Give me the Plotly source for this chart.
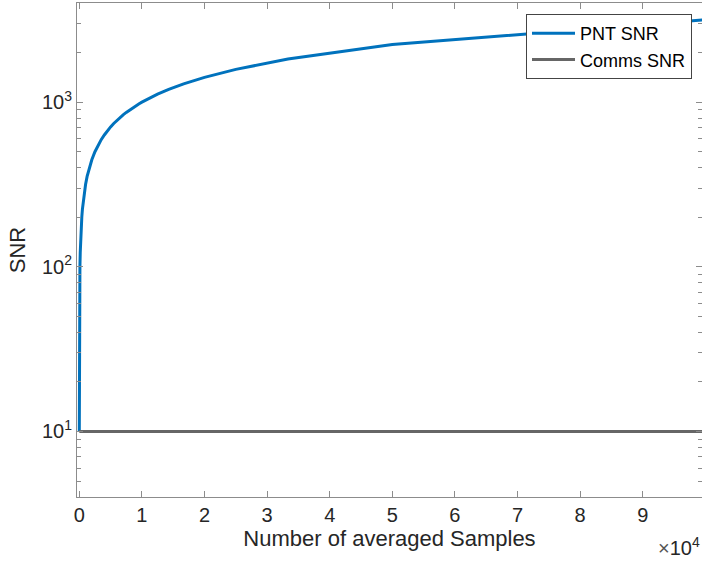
import plotly.graph_objects as go

# Data
samples = [1, 10, 20, 50, 100, 150, 200, 300, 400, 500, 600, 700, 800, 1000,
           1250, 1500, 1750, 2000, 2500, 3000, 3500, 4000, 4500, 5000, 5500,
           6000, 6500, 7000, 7500, 8000, 8500, 9000, 9500, 10000, 11111, 12500,
           14286, 16667, 20000, 25000, 33333, 50000, 100000]
pnt_snr = [10, 32, 45, 71, 100, 122, 141, 173, 200, 224, 245, 265, 283, 316,
           354, 387, 418, 447, 500, 548, 592, 632, 671, 707, 742,
           775, 806, 837, 866, 894, 922, 949, 975, 1000, 1054, 1118,
           1195, 1291, 1414, 1581, 1826, 2236, 3162]
comms_x = [1, 100000]
comms_snr = [10, 10]

x_tick_vals = [0, 10000, 20000, 30000, 40000, 50000, 60000, 70000, 80000, 90000]
x_tick_text = ["0", "1", "2", "3", "4", "5", "6", "7", "8", "9"]
y_tick_vals = [10, 100, 1000]
y_tick_text = ["10<sup>1</sup>", "10<sup>2</sup>", "10<sup>3</sup>"]
y_minor_vals = [4, 5, 6, 7, 8, 9, 20, 30, 40, 50, 60, 70, 80, 90,
                200, 300, 400, 500, 600, 700, 800, 900, 2000, 3000, 4000]

FONT = "Liberation Sans, Arial, Helvetica, sans-serif"
AXC = "#8c8c8c"
TXT = "#262626"

fig = go.Figure()
fig.add_trace(go.Scatter(x=samples, y=pnt_snr, mode="lines", name="PNT SNR",
                         line=dict(color="#0072BD", width=3)))
fig.add_trace(go.Scatter(x=comms_x, y=comms_snr, mode="lines", name="Comms SNR",
                         line=dict(color="#666666", width=3)))

fig.update_layout(
    width=702, height=563,
    margin=dict(l=77, r=0, t=3, b=66),
    paper_bgcolor="white", plot_bgcolor="white",
    font=dict(family=FONT, size=20, color=TXT),
    showlegend=True,
    legend=dict(x=(526 - 77) / 625, y=(497 - 14) / 494, xanchor="left", yanchor="top",
                bgcolor="white", bordercolor="#444444", borderwidth=1,
                font=dict(family=FONT, size=18, color="#000000"),
                itemwidth=43, tracegroupgap=0),
    xaxis=dict(
        range=[-367, 99473],
        tickmode="array", tickvals=x_tick_vals, ticktext=x_tick_text,
        ticks="inside", ticklen=6, tickcolor=AXC, tickwidth=1,
        showline=True, linecolor=AXC, linewidth=1, mirror="ticks",
        showgrid=False, zeroline=False,
        tickfont=dict(size=20, color=TXT),
        title=dict(text="Number of averaged Samples", font=dict(size=22, color=TXT), standoff=4),
    ),
    yaxis=dict(
        type="log", range=[0.6021, 3.6021],
        tickmode="array", tickvals=y_tick_vals, ticktext=y_tick_text,
        ticks="inside", ticklen=6, tickcolor=AXC, tickwidth=1,
        minor=dict(tickmode="array", tickvals=y_minor_vals, ticks="inside",
                   ticklen=4, tickcolor=AXC, tickwidth=1, showgrid=False),
        showline=True, linecolor=AXC, linewidth=1, mirror="ticks",
        showgrid=False, zeroline=False,
        tickfont=dict(size=20, color=TXT),
        title=dict(text="SNR", font=dict(size=22, color=TXT), standoff=10),
    ),
)

fig.add_annotation(
    xref="paper", yref="paper", x=1.0, y=-0.1, xanchor="right", yanchor="middle",
    text="<span style='color:#555555'>×</span>10<sup>4</sup>", showarrow=False,
    font=dict(family=FONT, size=20, color=TXT),
)

fig.write_html("out.html")
